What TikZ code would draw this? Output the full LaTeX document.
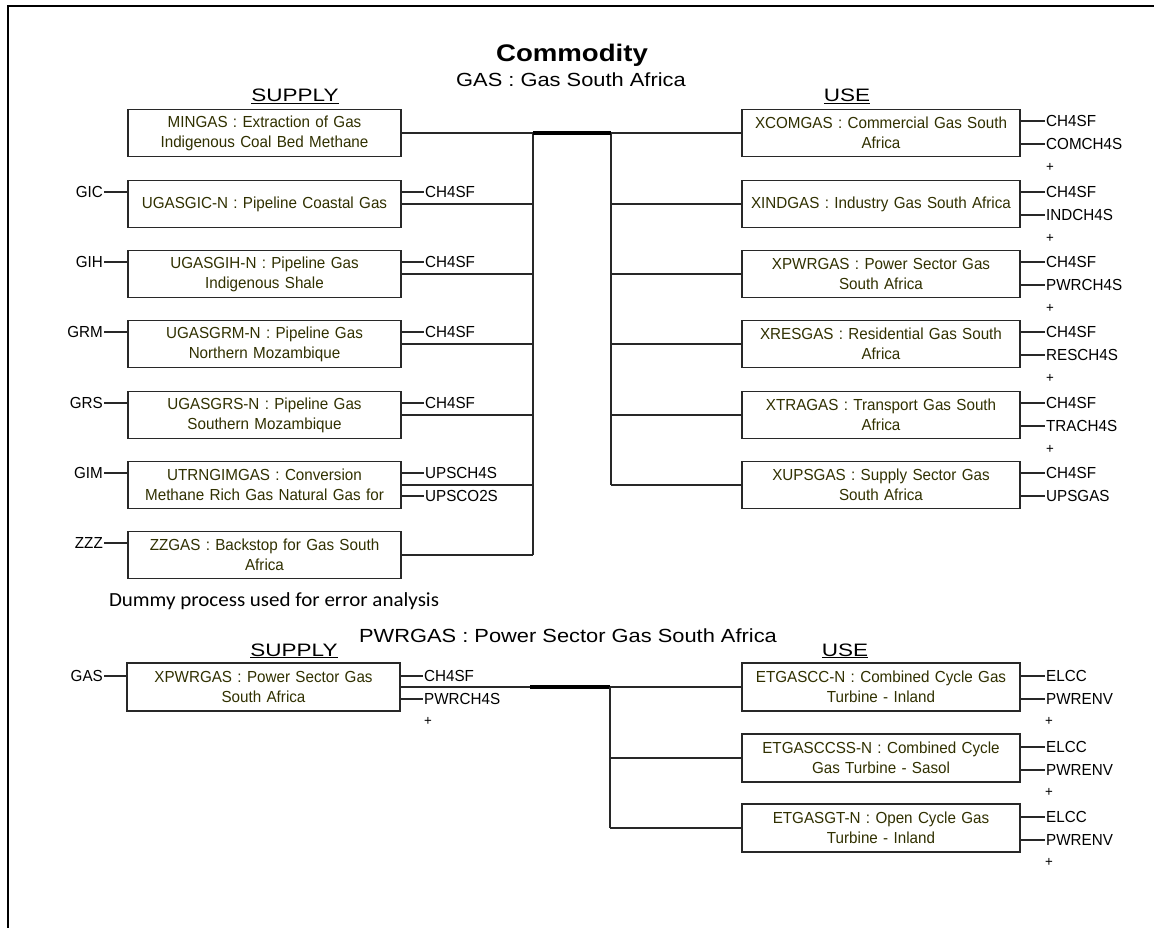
\documentclass[tikz,border=0pt]{standalone}
\usepackage{fontspec}
\setmainfont{Liberation Sans}
\newfontfamily\procfont[FakeStretch=0.95]{Liberation Sans}
\newfontfamily\headfont[FakeStretch=1.25]{Liberation Sans}
\newfontfamily\titlefont[FakeStretch=1.15]{Liberation Sans}
\newfontfamily\notefont[FakeStretch=1.05]{Carlito}
\definecolor{proctext}{RGB}{48,48,0}
\definecolor{edge}{RGB}{40,40,40}
\begin{document}
\begin{tikzpicture}[x=1pt,y=-1pt,
  proc/.style={draw=edge, line width=1.2pt, minimum width=273pt, minimum height=47pt,
    text width=268pt, align=center, inner sep=0pt, text=proctext,
    font=\procfont\fontsize{16}{20}\selectfont},
  usebox/.style={proc, minimum width=278pt, text width=274pt},
  lab/.style={inner sep=1pt, font=\procfont\fontsize{16}{20}\selectfont},
  plus/.style={inner sep=0pt, font=\procfont\fontsize{14}{16}\selectfont},
  head/.style={anchor=base, inner sep=0pt, font=\headfont\fontsize{18}{20}\selectfont},
  ttl/.style={anchor=base, inner sep=0pt, font=\titlefont\fontsize{19}{22}\selectfont},
  wire/.style={draw=edge, line width=1.2pt},
  bar/.style={draw=black, line width=4pt}]
\useasboundingbox (0,0) rectangle (1154,928);

% page frame
\draw[line width=2.6pt] (8,930) -- (8,6) -- (1156,6);

% ---------------- commodity GAS ----------------
\node[ttl, font=\titlefont\bfseries\fontsize{24}{28}\selectfont] (title) at (572,62) {Commodity};
\node[ttl] (gastitle) at (571,87) {GAS : Gas South Africa};
\node[head] (supA) at (295,102) {\underline{SUPPLY}};
\node[head] (useA) at (847,102) {\underline{USE}};

% supply processes
\node[proc] (mingas) at (264.5,133) {MINGAS : Extraction of Gas\\Indigenous Coal Bed Methane};
\node[proc] (ugic) at (264.5,204) {UGASGIC-N : Pipeline Coastal Gas};
\node[proc] (ugih) at (264.5,274) {UGASGIH-N : Pipeline Gas\\Indigenous Shale};
\node[proc] (ugrm) at (264.5,344) {UGASGRM-N : Pipeline Gas\\Northern Mozambique};
\node[proc] (ugrs) at (264.5,415) {UGASGRS-N : Pipeline Gas\\Southern Mozambique};
\node[proc] (utrn) at (264.5,485) {UTRNGIMGAS : Conversion\\Methane Rich Gas Natural Gas for};
\node[proc] (zzgas) at (264.5,555) {ZZGAS : Backstop for Gas South\\Africa};

% supply inputs
\node[lab, anchor=east] (inGIC) at (104,192) {GIC};
\node[lab, anchor=east] (inGIH) at (104,262) {GIH};
\node[lab, anchor=east] (inGRM) at (104,332) {GRM};
\node[lab, anchor=east] (inGRS) at (104,403) {GRS};
\node[lab, anchor=east] (inGIM) at (104,473) {GIM};
\node[lab, anchor=east] (inZZZ) at (104,543) {ZZZ};
\foreach \l/\b in {inGIC/ugic,inGIH/ugih,inGRM/ugrm,inGRS/ugrs,inGIM/utrn,inZZZ/zzgas}
  \draw[wire] (\l.east) -- (\b.west |- \l.east);

% supply outputs
\node[lab, anchor=west] (oGIC) at (424,192) {CH4SF};
\node[lab, anchor=west] (oGIH) at (424,262) {CH4SF};
\node[lab, anchor=west] (oGRM) at (424,332) {CH4SF};
\node[lab, anchor=west] (oGRS) at (424,403) {CH4SF};
\node[lab, anchor=west] (oGIMa) at (424,473) {UPSCH4S};
\node[lab, anchor=west] (oGIMb) at (424,496) {UPSCO2S};
\foreach \l/\b in {oGIC/ugic,oGIH/ugih,oGRM/ugrm,oGRS/ugrs,oGIMa/utrn,oGIMb/utrn}
  \draw[wire] (\b.east |- \l.west) -- (\l.west);

% bus
\coordinate (lbusT) at (533,133);
\coordinate (lbusB) at (533,555);
\coordinate (rbusT) at (611,133);
\coordinate (rbusB) at (611,485);
\foreach \b in {mingas,ugic,ugih,ugrm,ugrs,utrn,zzgas}
  \draw[wire] (\b.east) -- (\b.east -| lbusT);
\draw[wire] (lbusT) -- (lbusB);
\draw[wire] (rbusT) -- (rbusB);
\draw[bar] (lbusT) -- (rbusT);

% use processes
\node[usebox] (xcom) at (881,133) {XCOMGAS : Commercial Gas South\\Africa};
\node[usebox] (xind) at (881,204) {XINDGAS : Industry Gas South Africa};
\node[usebox] (xpwr) at (881,274) {XPWRGAS : Power Sector Gas\\South Africa};
\node[usebox] (xres) at (881,344) {XRESGAS : Residential Gas South\\Africa};
\node[usebox] (xtra) at (881,415) {XTRAGAS : Transport Gas South\\Africa};
\node[usebox] (xups) at (881,485) {XUPSGAS : Supply Sector Gas\\South Africa};
\foreach \b in {xcom,xind,xpwr,xres,xtra,xups}
  \draw[wire] (rbusT |- \b.west) -- (\b.west);

% use outputs (canvas y points down, so an upward shift is a positive yshift)
\foreach \b/\o/\p in {xcom/COMCH4S/1,xind/INDCH4S/1,xpwr/PWRCH4S/1,xres/RESCH4S/1,xtra/TRACH4S/1,xups/UPSGAS/0}{
  \node[lab, anchor=west] (\b-a) at ([yshift=12pt]\b.east -| 1045,0) {CH4SF};
  \node[lab, anchor=west] (\b-b) at ([yshift=-11pt]\b.east -| 1045,0) {\o};
  \draw[wire] (\b.east |- \b-a.west) -- (\b-a.west);
  \draw[wire] (\b.east |- \b-b.west) -- (\b-b.west);
  \ifnum\p=1 \node[plus] (\b-p) at ([yshift=-34pt]\b.east -| 1050,0) {+};\fi
}

\node[anchor=base, inner sep=0pt, font=\notefont\fontsize{20}{24}\selectfont] (note) at (274,606)
  {Dummy process used for error analysis};

% ---------------- commodity PWRGAS ----------------
\node[ttl] (pwrtitle) at (568,642) {PWRGAS : Power Sector Gas South Africa};
\node[head] (supB) at (294,656) {\underline{SUPPLY}};
\node[head] (useB) at (845,656) {\underline{USE}};

\node[proc, minimum height=48pt] (sxpwr) at (263.5,687) {XPWRGAS : Power Sector Gas\\South Africa};
\node[lab, anchor=east] (inGAS) at (104,676) {GAS};
\draw[wire] (inGAS.east) -- (sxpwr.west |- inGAS.east);
\node[lab, anchor=west] (sxa) at (423,676) {CH4SF};
\node[lab, anchor=west] (sxb) at (423,699) {PWRCH4S};
\node[plus] (sxp) at (428,721) {+};
\draw[wire] (sxpwr.east |- sxa.west) -- (sxa.west);
\draw[wire] (sxpwr.east |- sxb.west) -- (sxb.west);

\coordinate (pbusL) at (530,687);
\coordinate (pbusR) at (610,687);
\coordinate (pbusB) at (610,828);
\draw[wire] (sxpwr.east) -- (pbusL);
\draw[bar] (pbusL) -- (pbusR);
\draw[wire] (pbusR) -- (pbusB);

\node[usebox, minimum height=48pt] (etcc) at (881,687) {ETGASCC-N : Combined Cycle Gas\\Turbine - Inland};
\node[usebox, minimum height=48pt] (etccs) at (881,758) {ETGASCCSS-N : Combined Cycle\\Gas Turbine - Sasol};
\node[usebox, minimum height=48pt] (etgt) at (881,828) {ETGASGT-N : Open Cycle Gas\\Turbine - Inland};
\foreach \b in {etcc,etccs,etgt}{
  \draw[wire] (pbusR |- \b.west) -- (\b.west);
  \node[lab, anchor=west] (\b-a) at ([yshift=11pt]\b.east -| 1045,0) {ELCC};
  \node[lab, anchor=west] (\b-b) at ([yshift=-12pt]\b.east -| 1045,0) {PWRENV};
  \draw[wire] (\b.east |- \b-a.west) -- (\b-a.west);
  \draw[wire] (\b.east |- \b-b.west) -- (\b-b.west);
  \node[plus] (\b-p) at ([yshift=-34pt]\b.east -| 1049,0) {+};
}
\end{tikzpicture}
\end{document}
